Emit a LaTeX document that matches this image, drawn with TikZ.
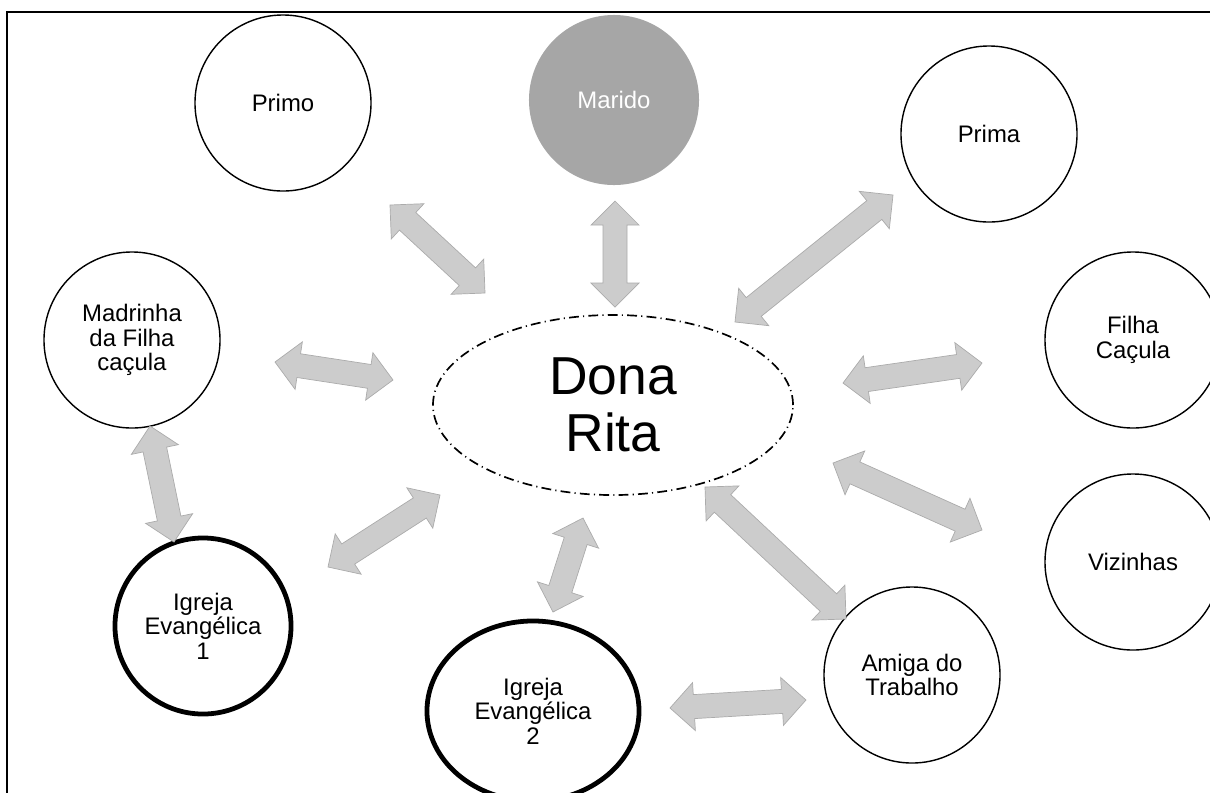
\documentclass[tikz,border=0pt]{standalone}
\usepackage{fontspec}
\setmainfont{Liberation Sans}
\usetikzlibrary{shapes.geometric,calc}

% block double arrow between two named coordinates
\def\headlen{0.6cm}
\def\headwid{0.6cm}
\def\shaftwid{0.3cm}
\newcommand{\dblarrow}[2]{%
  \draw[arr] (#1)
    -- ($(#1)!\headlen!(#2)!\headwid!90:(#2)$)
    -- ($(#1)!\headlen!(#2)!\shaftwid!90:(#2)$)
    -- ($(#2)!\headlen!(#1)!\shaftwid!90:(#2)$)
    -- ($(#2)!\headlen!(#1)!\headwid!90:(#2)$)
    -- (#2)
    -- ($(#2)!\headlen!(#1)!\headwid!-90:(#2)$)
    -- ($(#2)!\headlen!(#1)!\shaftwid!-90:(#2)$)
    -- ($(#1)!\headlen!(#2)!\shaftwid!-90:(#2)$)
    -- ($(#1)!\headlen!(#2)!\headwid!-90:(#2)$)
    -- cycle;}

\begin{document}
\begin{tikzpicture}[x=0.025cm, y=-0.025cm,
  person/.style={circle, draw, line width=1pt, align=center, inner sep=0pt,
    minimum size=4.4cm, font=\fontsize{17}{17.5}\selectfont},
  church/.style={person, line width=3.4pt},
  arr/.style={fill=black!20, draw=black!33, line width=0.5pt, line join=miter}]
\useasboundingbox (0,0) rectangle (1210,792);
\clip (0,0) rectangle (1210,792);
\draw[line width=1.4pt] (7,12) rectangle (1230,810);

\node[ellipse, draw, line width=1.2pt, dash pattern=on 7pt off 3pt on 0.8pt off 3pt,
  minimum width=9cm, minimum height=4.5cm, align=center,
  font=\fontsize{38}{40.5}\selectfont] (rita) at (613,405) {Dona\\Rita};

\node[person] (primo) at (283,103) {Primo};
\node[person, draw=none, fill=black!35, text=white, minimum size=4.25cm]
  (marido) at (614,100) {Marido};
\node[person] (prima) at (989,134) {Prima};
\node[person] (madrinha) at (132,340) {Madrinha\\da Filha\\caçula};
\node[person] (filha) at (1133,340) {Filha\\Caçula};
\node[person] (vizinhas) at (1133,562) {Vizinhas};
\node[person] (amiga) at (912,675) {Amiga do\\Trabalho};
\node[church] (igreja1) at (203,626) {Igreja\\Evangélica\\1};
\node[church, ellipse, minimum width=5.3cm, minimum height=4.5cm]
  (igreja2) at (533,711) {Igreja\\Evangélica\\2};

\foreach \xa/\ya/\xb/\yb in {390/205/485/293, 615/201/615/307, 735/322/893/195,
    275/362/393/380, 843/383/982/363, 833/463/982/530, 705/487/846/619,
    670/708/806/700, 553/612/583/518, 328/567/440/495, 150/426/174/542}{
  \coordinate (a) at (\xa,\ya);
  \coordinate (b) at (\xb,\yb);
  \dblarrow{a}{b}
}
\end{tikzpicture}
\end{document}
